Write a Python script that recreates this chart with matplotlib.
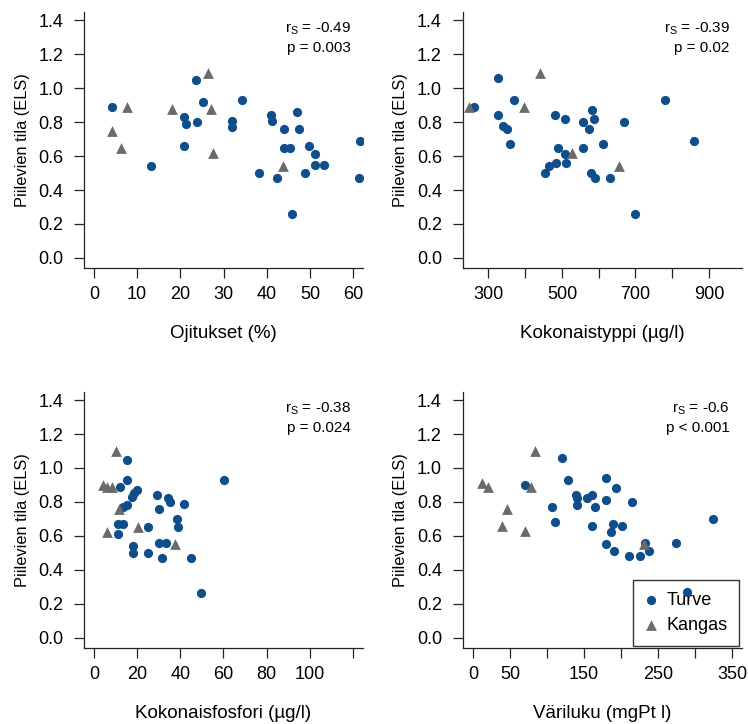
import numpy as np
import matplotlib
matplotlib.use("Agg")
import matplotlib.pyplot as plt
from matplotlib import font_manager

plt.rcParams['font.family'] = ['Liberation Sans', 'DejaVu Sans']
plt.rcParams['mathtext.default'] = 'regular'

# narrow face for the y labels, if the system has one
names = {f.name for f in font_manager.fontManager.ttflist}
if 'Liberation Sans Narrow' in names:
    ylab_font = dict(family='Liberation Sans Narrow', fontsize=13.5)
else:
    ylab_font = dict(family='Liberation Sans', fontsize=11.8)

TURVE = '#104E8B'
KANGAS = '#6B6B6B'

# Ojitukset (%)
oji_turve_x = [4.2, 23.7, 25.3, 20.8, 21.3, 23.9, 20.8, 13.3, 31.9, 31.9, 34.3, 40.9, 41.2, 43.9,
               47.1, 47.5, 44.0, 45.5, 49.7, 51.1, 51.1, 53.2, 48.9, 38.2, 42.5, 45.9, 61.6, 61.4]
oji_turve_y = [0.89, 1.05, 0.92, 0.83, 0.79, 0.80, 0.66, 0.54, 0.81, 0.77, 0.93, 0.84, 0.81, 0.76,
               0.86, 0.76, 0.65, 0.65, 0.66, 0.61, 0.55, 0.55, 0.50, 0.50, 0.47, 0.26, 0.69, 0.47]
oji_kangas_x = [7.6, 4.1, 6.3, 18.1, 26.3, 27.2, 27.6, 43.8]
oji_kangas_y = [0.89, 0.75, 0.65, 0.88, 1.09, 0.88, 0.62, 0.54]

# Kokonaistyppi (ug/l)
tn_turve_x = [260, 325, 370, 325, 339, 351, 358, 480, 508, 556, 573, 581, 587, 668,
              780, 860, 489, 556, 612, 508, 511, 484, 465, 454, 580, 589, 631, 698]
tn_turve_y = [0.89, 1.06, 0.93, 0.84, 0.78, 0.76, 0.67, 0.84, 0.82, 0.80, 0.76, 0.87, 0.82, 0.80,
              0.93, 0.69, 0.65, 0.65, 0.67, 0.61, 0.56, 0.56, 0.54, 0.50, 0.50, 0.47, 0.47, 0.26]
tn_kangas_x = [248, 441, 397, 528, 655]
tn_kangas_y = [0.89, 1.09, 0.89, 0.62, 0.54]

# Kokonaisfosfori (ug/l)
tp_turve_x = [15.5, 15.2, 12.1, 60.3, 20.0, 18.7, 17.8, 29.1, 34.5, 35.1, 41.8, 30.3, 15.2, 13.3,
              38.4, 38.8, 11.0, 13.3, 11.1, 25.1, 18.2, 18.2, 30.3, 33.3, 25.1, 31.4, 45.0, 49.7]
tp_turve_y = [1.05, 0.93, 0.89, 0.93, 0.87, 0.85, 0.83, 0.84, 0.82, 0.80, 0.79, 0.76, 0.78, 0.77,
              0.70, 0.65, 0.67, 0.67, 0.61, 0.65, 0.54, 0.50, 0.56, 0.56, 0.50, 0.47, 0.47, 0.26]
tp_kangas_x = [10.1, 4.3, 5.9, 8.2, 11.5, 5.9, 20.4, 37.4]
tp_kangas_y = [1.10, 0.90, 0.89, 0.89, 0.76, 0.62, 0.65, 0.55]

# Väriluku (mgPt/l)
vari_turve_x = [119.8, 128.8, 69.8, 139.2, 141, 141, 153.6, 161.3, 164.9, 106.8, 110.4, 179.3, 179.3, 193.2,
                214.4, 160.4, 189.2, 200.9, 186.5, 179.3, 191, 210.4, 225.7, 238.3, 232.4, 274.3, 323.9, 289.6]
vari_turve_y = [1.06, 0.93, 0.90, 0.84, 0.82, 0.78, 0.82, 0.84, 0.77, 0.77, 0.68, 0.94, 0.81, 0.88,
                0.80, 0.66, 0.67, 0.66, 0.62, 0.55, 0.51, 0.48, 0.48, 0.51, 0.56, 0.56, 0.70, 0.27]
vari_kangas_x = [11.7, 20.7, 38.7, 46.4, 70.7, 77.9, 84.2, 231.5]
vari_kangas_y = [0.91, 0.89, 0.66, 0.76, 0.63, 0.89, 1.10, 0.55]

panels = [
    dict(pos=[0.1123, 0.6298, 0.373, 0.3536], tx=oji_turve_x, ty=oji_turve_y, kx=oji_kangas_x, ky=oji_kangas_y,
         xlim=(-2.3, 62.3), ticks=[0, 10, 20, 30, 40, 50, 60], labels=['0', '10', '20', '30', '40', '50', '60'],
         xlabel='Ojitukset (%)', r='-0.49', p='p = 0.003'),
    dict(pos=[0.6186, 0.6298, 0.373, 0.3536], tx=tn_turve_x, ty=tn_turve_y, kx=tn_kangas_x, ky=tn_kangas_y,
         xlim=(230, 989), ticks=[300, 400, 500, 600, 700, 800, 900], labels=['300', '', '500', '', '700', '', '900'],
         xlabel='Kokonaistyppi (µg/l)', r='-0.39', p='p = 0.02'),
    dict(pos=[0.1123, 0.1054, 0.373, 0.3536], tx=tp_turve_x, ty=tp_turve_y, kx=tp_kangas_x, ky=tp_kangas_y,
         xlim=(-4.6, 124.7), ticks=[0, 20, 40, 60, 80, 100, 120], labels=['0', '20', '40', '60', '80', '100', ''],
         xlabel='Kokonaisfosfori (µg/l)', r='-0.38', p='p = 0.024'),
    dict(pos=[0.6186, 0.1054, 0.373, 0.3536], tx=vari_turve_x, ty=vari_turve_y, kx=vari_kangas_x, ky=vari_kangas_y,
         xlim=(-13.9, 363), ticks=[0, 50, 100, 150, 200, 250, 300, 350],
         labels=['0', '50', '', '150', '', '250', '', '350'],
         xlabel='Väriluku (mgPt l)', r='-0.6', p='p < 0.001'),
]

fig = plt.figure(figsize=(7.48, 7.24), dpi=100)

for i, pn in enumerate(panels):
    ax = fig.add_axes(pn['pos'])
    ax.scatter(pn['tx'], pn['ty'], s=44, color=TURVE, marker='o', linewidths=0, zorder=3, label='Turve')
    ax.scatter(pn['kx'], pn['ky'], s=60, color=KANGAS, marker='^', linewidths=0, zorder=3, label='Kangas')

    ax.set_xlim(pn['xlim'])
    ax.set_ylim(-0.06, 1.45)
    ax.set_xticks(pn['ticks'])
    ax.set_xticklabels(pn['labels'])
    ax.set_yticks(np.arange(0, 1.41, 0.2))
    ax.set_yticklabels(['0.0', '0.2', '0.4', '0.6', '0.8', '1.0', '1.2', '1.4'])
    ax.tick_params(direction='out', length=7, width=0.9, labelsize=13, pad=6, color='#222222')
    ax.tick_params(axis='y', pad=8)

    for side in ['top', 'right']:
        ax.spines[side].set_visible(False)
    for side in ['left', 'bottom']:
        ax.spines[side].set_linewidth(0.9)
        ax.spines[side].set_color('#222222')

    ax.set_ylabel('Piilevien tila (ELS)', **ylab_font)
    ax.yaxis.set_label_coords(-0.195, 0.5)
    ax.set_xlabel(pn['xlabel'], fontsize=13.5)
    ax.xaxis.set_label_coords(0.5, -0.222)

    ax.text(0.957, 0.934, 'r$_{S}$ = ' + pn['r'], transform=ax.transAxes,
            ha='right', va='center', fontsize=11)
    ax.text(0.957, 0.859, pn['p'], transform=ax.transAxes,
            ha='right', va='center', fontsize=11)

    if i == 3:
        leg = ax.legend(loc='lower right', bbox_to_anchor=(0.991, 0.008), borderaxespad=0,
                        fontsize=13, frameon=True, fancybox=False, edgecolor='black',
                        handlelength=0.7, handletextpad=0.5, borderpad=0.65, labelspacing=0.45,
                        scatterpoints=1)
        leg.get_frame().set_linewidth(1.0)
        leg.set_zorder(2)

fig.savefig('out.png', dpi=100)
